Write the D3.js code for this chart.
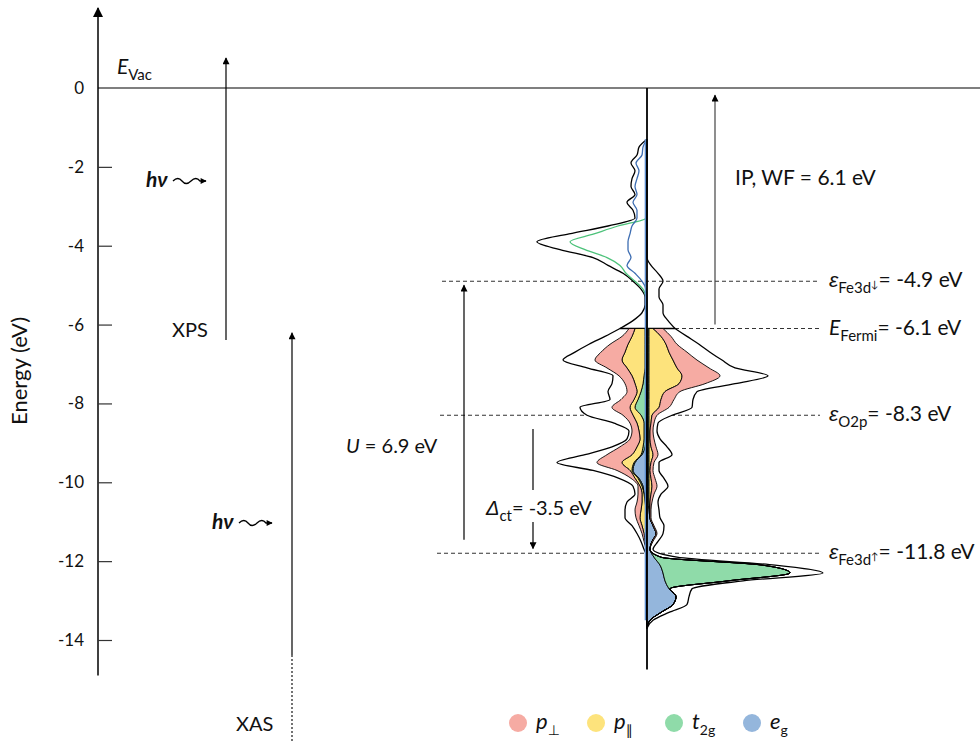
<!DOCTYPE html>
<html>
<head>
<meta charset="utf-8">
<script src="https://cdn.jsdelivr.net/npm/d3@7"></script>
<style>
  body { margin: 0; background: #fff; }
  svg { font-family: Lato, "DejaVu Sans", sans-serif; fill: #111; }
</style>
</head>
<body>
<svg id="chart" width="980" height="742"></svg>
<script>
// ---- data (energies in eV, DOS in arbitrary units) ----
const yTicks = [0, -2, -4, -6, -8, -10, -12, -14];

// unoccupied part, drawn as lines only (left side)
const upperE = [-1.3, -1.5, -1.7, -1.9, -2.1, -2.3, -2.5, -2.7, -2.9, -3.1, -3.3, -3.5, -3.7,
  -3.9, -4.1, -4.3, -4.5, -4.7, -4.9, -5.1, -5.3, -5.5, -5.7, -5.9, -6.1];
const totUpL = [0, 8, 10, 16, 12, 15, 16, 12, 20, 14, 12, 39, 78, 110, 87, 54, 39, 24, 14, 6, 2, 2, 5, 14, 27];
const t2gUpL = [0, 0, 0, 0, 0, 0, 0, 0, 0, 0, 1, 29, 53, 77, 62, 40, 27, 21, 12, 4, 1, 0, 0, 0, 0];
const egUpL = [0, 4, 5, 11, 8, 10, 12, 10, 14, 10, 10, 15, 17, 19, 19, 16, 20, 12, 5, 1, 0, 0, 0, 0, 0];
const totUpR = [0, 0, 0, 0, 0, 0, 0, 0, 0, 0, 0, 0, 0, 0, 0, 0, 4, 11, 16, 12, 12, 16, 16, 21, 28];

// occupied part, stacked fills
const lowerE = [-6.1, -6.3, -6.5, -6.7, -6.9, -7.1, -7.3, -7.5, -7.7, -7.9, -8.1, -8.3, -8.5,
  -8.7, -8.9, -9.1, -9.3, -9.5, -9.7, -9.9, -10.1, -10.3, -10.5, -10.7, -10.9, -11.1, -11.3,
  -11.5, -11.7, -11.9, -12.1, -12.3, -12.5, -12.7, -12.9, -13.1, -13.3, -13.5, -13.7];
const egOccL = [1, 1, 1, 1, 1, 1, 1, 1, 1, 1, 1, 1, 1, 1, 1, 2, 5, 12, 14, 8, 4, 3, 2, 1, 1, 1, 0, 0, 0, 0, 0, 0, 0, 0, 0, 0, 0, 0, 0];
const t2gOccL = [1, 1, 1, 1, 1, 1, 2, 3, 5, 8, 11, 5, 2, 2, 2, 2, 1, 1, 1, 1, 1, 0, 0, 0, 0, 0, 0, 0, 0, 0, 0, 0, 0, 0, 0, 0, 0, 0, 0];
const pParOccL = [10, 13, 17, 20, 23, 18, 12, 8, 4, 4, 5, 8, 7, 5, 4, 6, 9, 12, 2, 3, 2, 2, 3, 5, 6, 4, 3, 2, 1, 0, 0, 0, 0, 0, 0, 0, 0, 0, 0];
const pPerpOccL = [6, 10, 18, 24, 27, 20, 13, 10, 10, 13, 18, 10, 7, 7, 10, 17, 25, 25, 13, 4, 2, 4, 5, 6, 4, 3, 2, 1, 0, 0, 0, 0, 0, 0, 0, 0, 0, 0, 0];
const totOccL = [27, 42, 58, 72, 84, 60, 34, 35, 39, 37, 67, 60, 33, 18, 20, 35, 62, 90, 54, 28, 14, 12, 20, 22, 22, 15, 10, 6, 3, 0, 0, 0, 0, 0, 0, 0, 0, 0, 0];

const egOccR = [1, 1, 1, 1, 1, 1, 1, 1, 1, 1, 1, 1, 1, 1, 1, 1, 1, 1, 1, 1, 1, 1, 1, 2, 3, 6, 9, 5, 3, 7, 13, 16, 18, 22, 29, 26, 14, 3, 0];
const t2gOccR = [1, 1, 1, 1, 1, 1, 1, 1, 1, 1, 1, 1, 1, 1, 1, 1, 1, 1, 1, 1, 1, 1, 1, 1, 0, 0, 0, 0, 0, 7, 102, 127, 63, 1, 0, 0, 0, 0, 0];
const pParOccR = [4, 12, 17, 20, 24, 28, 33, 30, 16, 12, 10, 3, 2, 1, 1, 2, 4, 2, 1, 2, 3, 2, 1, 0, 0, 0, 0, 0, 0, 0, 0, 0, 0, 0, 0, 0, 0, 0, 0];
const pPerpOccR = [10, 10, 11, 18, 24, 32, 38, 26, 15, 13, 10, 5, 3, 3, 4, 5, 5, 3, 3, 4, 5, 3, 2, 1, 1, 1, 1, 1, 0, 0, 0, 0, 0, 0, 0, 0, 0, 0, 0];
const totOccR = [28, 40, 52, 63, 75, 88, 121, 88, 50, 46, 45, 25, 11, 10, 13, 20, 25, 12, 12, 17, 21, 14, 11, 12, 13, 17, 16, 11, 6, 30, 128, 176, 96, 45, 42, 40, 22, 6, 0];

// reference levels
const levelE = [-4.9, -6.1, -8.3, -11.8];
const levelName = ['ε', 'E', 'ε', 'ε'];
const levelSub = ['Fe3d', 'Fermi', 'O2p', 'Fe3d'];
const levelSpin = ['↓', '', '', '↑'];
const levelValue = ['= -4.9 eV', '= -6.1 eV', '= -8.3 eV', '= -11.8 eV'];

const stackKeys = ['eg', 't2g', 'pPar', 'pPerp'];
const legendKeys = ['pPerp', 'pPar', 't2g', 'eg'];
const legendMain = ['p', 'p', 't', 'e'];
const legendSub = ['⊥', '∥', '2g', 'g'];
const colors = { pPerp: '#f6aba3', pPar: '#fde37c', t2g: '#8fdba9', eg: '#94b6dc' };

// ---- chart ----
const svg = d3.select('#chart');
const y = d3.scaleLinear().domain([0, -14]).range([88, 640]);
const x = d3.scaleLinear().domain([0, 100]).range([647, 747]);
const greek = '"Liberation Sans", "DejaVu Sans", sans-serif';

const defs = svg.append('defs');
function marker(id, w, h) {
  defs.append('marker').attr('id', id)
    .attr('viewBox', '0 0 10 10').attr('refX', 9).attr('refY', 5)
    .attr('markerWidth', w).attr('markerHeight', h)
    .attr('markerUnits', 'userSpaceOnUse').attr('orient', 'auto')
    .append('path').attr('d', 'M0,0L10,5L0,10Z').attr('fill', '#000');
}
marker('axisHead', 12, 10);
marker('head', 10, 7);
marker('smallHead', 7, 6);

function richText(parent, px, py, parts, size) {
  const t = parent.append('text').attr('x', px).attr('y', py).style('font-size', size + 'px');
  let cur = 0;
  parts.forEach(p => {
    const shift = p.shift || 0;
    const ts = t.append('tspan').attr('dy', shift - cur).text(p.t);
    cur = shift;
    if (p.size) ts.style('font-size', p.size + 'px');
    if (p.it) ts.style('font-style', 'italic');
    if (p.bold) ts.style('font-weight', 'bold');
    if (p.font) ts.style('font-family', p.font);
  });
  return t;
}

// axis
const axisX = 98;
svg.append('line').attr('x1', axisX).attr('x2', axisX)
  .attr('y1', y(-14.9)).attr('y2', y(2.03))
  .attr('stroke', '#000').attr('stroke-width', 1.5).attr('marker-end', 'url(#axisHead)');

const axis = svg.append('g').attr('transform', `translate(${axisX},0)`)
  .call(d3.axisLeft(y).tickValues(yTicks).tickSize(-14).tickSizeOuter(0)
    .tickPadding(14).tickFormat(d => String(d)));
axis.select('.domain').remove();
axis.selectAll('.tick line').attr('stroke', '#333').attr('stroke-width', 1.2);
axis.selectAll('.tick text').style('font-size', '17px').style('font-family', 'Lato, sans-serif').attr('fill', '#111');
axis.selectAll('.tick').filter(d => d === 0).select('line').remove();

svg.append('text').attr('transform', 'translate(27,371) rotate(-90)')
  .attr('text-anchor', 'middle').style('font-size', '22px').text('Energy (eV)');

// vacuum level
svg.append('line').attr('x1', axisX).attr('x2', 980).attr('y1', y(0)).attr('y2', y(0))
  .attr('stroke', '#000').attr('stroke-width', 1.2);
richText(svg, 117, 74, [{ t: 'E', it: true }, { t: 'Vac', shift: 6, size: 15 }], 21);

// dashed level lines
const dash = svg.append('g').attr('stroke', '#333').attr('stroke-width', 1.1).attr('stroke-dasharray', '4,3');
levelE.forEach((e, i) => {
  const x1 = e === -6.1 ? x(totOccR[0]) : [442, 0, 440, 437][i];
  dash.append('line').attr('x1', x1).attr('x2', 820).attr('y1', y(e)).attr('y2', y(e));
});

// ---- DOS ----
const dos = svg.append('g');
const rowsL = lowerE.map((E, i) => ({ E, eg: egOccL[i], t2g: t2gOccL[i], pPar: pParOccL[i], pPerp: pPerpOccL[i] }));
const rowsR = lowerE.map((E, i) => ({ E, eg: egOccR[i], t2g: t2gOccR[i], pPar: pParOccR[i], pPerp: pPerpOccR[i] }));
const stack = d3.stack().keys(stackKeys);

function drawSide(rows, tot, sign) {
  const totArea = d3.area().curve(d3.curveMonotoneY)
    .y((d, i) => y(lowerE[i])).x0(x(0)).x1(d => x(sign * d));
  dos.append('path').attr('d', totArea(tot))
    .attr('fill', '#fff').attr('stroke', '#000').attr('stroke-width', 1.3);
  const band = d3.area().curve(d3.curveMonotoneY)
    .y((d, i) => y(lowerE[i])).x0(d => x(sign * d[0])).x1(d => x(sign * d[1]));
  stack(rows).forEach(s => {
    dos.append('path').attr('d', band(s))
      .attr('fill', colors[s.key]).attr('stroke', '#000').attr('stroke-width', 0.9);
  });
}
drawSide(rowsL, totOccL, -1);
drawSide(rowsR, totOccR, 1);

const upLine = d3.line().curve(d3.curveMonotoneY).y((d, i) => y(upperE[i]));
dos.append('path').attr('d', upLine.x(d => x(-d))(totUpL)).attr('fill', 'none').attr('stroke', '#000').attr('stroke-width', 1.3);
dos.append('path').attr('d', upLine.x(d => x(-d))(t2gUpL)).attr('fill', 'none').attr('stroke', '#4cc27a').attr('stroke-width', 1.3);
dos.append('path').attr('d', upLine.x(d => x(-d))(egUpL)).attr('fill', 'none').attr('stroke', '#3d6db2').attr('stroke-width', 1.3);
dos.append('path').attr('d', upLine.x(d => x(d))(totUpR)).attr('fill', 'none').attr('stroke', '#000').attr('stroke-width', 1.3);

// centre lines
dos.append('line').attr('x1', x(0) - 1.6).attr('x2', x(0) - 1.6).attr('y1', y(-1.3)).attr('y2', y(-13.5))
  .attr('stroke', '#5b8ccc').attr('stroke-width', 1.4);
dos.append('line').attr('x1', x(0)).attr('x2', x(0)).attr('y1', y(0)).attr('y2', y(-14.75))
  .attr('stroke', '#000').attr('stroke-width', 1.8);

// level labels
levelE.forEach((e, i) => {
  const first = { t: levelName[i], it: true };
  if (levelName[i] === 'ε') first.font = greek;
  const parts = [first, { t: levelSub[i], shift: 6, size: 15 }];
  if (levelSpin[i]) parts.push({ t: levelSpin[i], shift: 1, size: 10 });
  parts.push({ t: levelValue[i] });
  richText(svg, 829, y(e) + 6, parts, 21);
});

// ---- arrows ----
function vArrow(px, eFrom, eTo, head, color) {
  return svg.append('line').attr('x1', px).attr('x2', px).attr('y1', y(eFrom)).attr('y2', y(eTo))
    .attr('stroke', color || '#000').attr('stroke-width', 1.2)
    .attr('marker-end', head ? `url(#${head})` : null);
}
// XPS
vArrow(226, -6.39, 0.76, 'head');
svg.append('text').attr('x', 172).attr('y', 337).style('font-size', '20px').text('XPS');
// XAS
vArrow(292, -14.38, -6.21, 'head');
svg.append('line').attr('x1', 292).attr('x2', 292).attr('y1', y(-14.38)).attr('y2', 742)
  .attr('stroke', '#000').attr('stroke-width', 1.1).attr('stroke-dasharray', '2,2');
svg.append('text').attr('x', 236).attr('y', 731).style('font-size', '20px').text('XAS');

// photons
function photon(px, py) {
  richText(svg, px, py, [{ t: 'hν', it: true, bold: true }], 21);
  svg.append('path')
    .attr('d', `M${px + 27},${py - 6} q5,-5 9,0 t9,0 t9,0 l6,0`)
    .attr('fill', 'none').attr('stroke', '#000').attr('stroke-width', 1.3)
    .attr('marker-end', 'url(#smallHead)');
}
photon(146, 187);
photon(212, 529);

// IP / WF
vArrow(715, -6.0, -0.18, 'head', '#444');
svg.append('text').attr('x', 735).attr('y', 185).style('font-size', '21px').text('IP, WF = 6.1 eV');

// U
vArrow(464, -11.46, -5.0, 'head');
richText(svg, 346, 453, [{ t: 'U', it: true }, { t: ' = 6.9 eV' }], 20);

// charge transfer: arrow broken by its label
vArrow(533, -8.65, -11.68, 'head');
svg.append('rect').attr('x', 525).attr('y', 490).attr('width', 16).attr('height', 32).attr('fill', '#fff');
richText(svg, 486, 515, [{ t: 'Δ', it: true, font: greek }, { t: 'ct', shift: 6, size: 15 }, { t: '= -3.5 eV' }], 20);

// ---- legend ----
const lx = d3.scalePoint().domain(legendKeys).range([518, 752]);
const leg = svg.append('g');
legendKeys.forEach((k, i) => {
  leg.append('circle').attr('cx', lx(k)).attr('cy', 723).attr('r', 9).attr('fill', colors[k]);
  richText(leg, lx(k) + 18, 729, [{ t: legendMain[i], it: true }, { t: legendSub[i], shift: 6, size: 14 }], 22);
});
</script>
</body>
</html>
